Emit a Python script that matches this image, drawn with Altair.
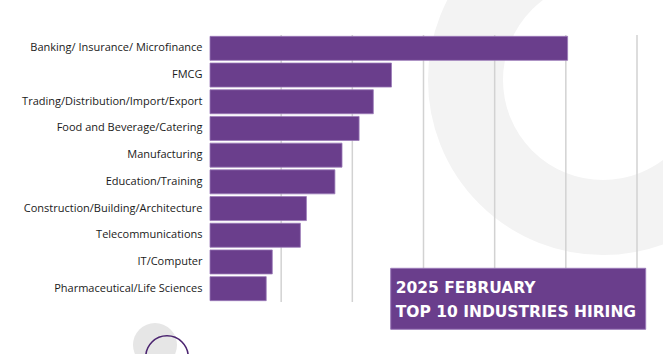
import altair as alt
import pandas as pd

industries = [
    "Banking/ Insurance/ Microfinance",
    "FMCG",
    "Trading/Distribution/Import/Export",
    "Food and Beverage/Catering",
    "Manufacturing",
    "Education/Training",
    "Construction/Building/Architecture",
    "Telecommunications",
    "IT/Computer",
    "Pharmaceutical/Life Sciences",
]
shares = [10.05, 5.10, 4.59, 4.19, 3.71, 3.51, 2.71, 2.54, 1.75, 1.58]
grid_values = [2, 4, 6, 8, 10, 12]
title_lines = ["2025 FEBRUARY", "TOP 10 INDUSTRIES HIRING"]

PURPLE = "#6a3e8c"
FONT = "Open Sans"
BOX_FONT = "DejaVu Sans"

df = pd.DataFrame({"industry": industries, "share": shares})
grid_df = pd.DataFrame({"v": grid_values})
one = pd.DataFrame({"a": [0]})

x_scale = alt.Scale(domain=[0, 12], nice=False, zero=True)
y_scale = alt.Scale(paddingInner=0.1, paddingOuter=0.05)

# background decorations (circle symbols: radius = sqrt(size)/2)
ring = alt.Chart(one).mark_point(
    shape="circle", filled=False, stroke="#f3f3f3", strokeWidth=75,
    size=275 ** 2, opacity=1,
).encode(x=alt.value(393), y=alt.value(45))
hatch = alt.Chart(one).mark_point(
    shape="circle", filled=True, fill="#e6e6e6", size=44 ** 2, opacity=1,
).encode(x=alt.value(-55), y=alt.value(310))
purple_ring = alt.Chart(one).mark_point(
    shape="circle", filled=False, stroke="#4b2470", strokeWidth=1.6,
    size=42.4 ** 2, opacity=1,
).encode(x=alt.value(-43), y=alt.value(322))

rules = alt.Chart(grid_df).mark_rule(color="#d2d2d2", strokeWidth=1.5).encode(
    x=alt.X("v:Q", scale=x_scale, axis=None),
)

bars = alt.Chart(df).mark_bar(
    color=PURPLE, stroke="#9a7ab8", strokeWidth=0.8
).encode(
    x=alt.X("share:Q", scale=x_scale, axis=None),
    y=alt.Y(
        "industry:N", sort=industries, scale=y_scale, title=None,
        axis=alt.Axis(
            ticks=False, domain=False, labelPadding=8, labelFont=FONT,
            labelFontSize=11, labelColor="#1a1a1a", labelFontWeight=500,
            labelLimit=220,
        ),
    ),
)

box = alt.Chart(one).mark_rect(
    fill=PURPLE, stroke="#9a7ab8", strokeWidth=1
).encode(
    x=alt.value(180.7), x2=alt.value(435.7),
    y=alt.value(233.3), y2=alt.value(294.3),
)

text_layers = []
for line, yy in zip(title_lines, [257.7, 281.7]):
    text_layers.append(
        alt.Chart(one).mark_text(
            align="left", baseline="alphabetic", color="white", font=BOX_FONT,
            fontWeight="bold", fontSize=15.5, text=line,
        ).encode(x=alt.value(185.7), y=alt.value(yy))
    )

chart = alt.layer(
    ring, hatch, purple_ring, rules, bars, box, *text_layers
).properties(
    width=427, height=267,
    autosize=alt.AutoSizeParams(type="none"),
    padding={"left": 210, "top": 35, "right": 26, "bottom": 52},
    background="white",
).configure_view(strokeWidth=0)

chart.save("out.html", embed_options={"renderer": "svg", "actions": False})
